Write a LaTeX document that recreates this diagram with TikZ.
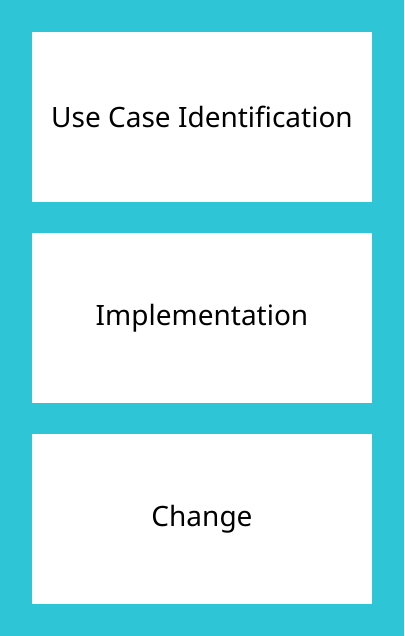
\documentclass[tikz,border=0pt]{standalone}
\usepackage{fontspec}
\setmainfont{Noto Sans}
\definecolor{bgcyan}{HTML}{2EC6D6}
\begin{document}
\begin{tikzpicture}[x=1pt,y=1pt]%
	\tikzset{stage/.style={fill=white, draw=none, minimum width=340pt, minimum height=170pt, inner sep=0pt, font=\fontsize{28}{34}\selectfont}}
	\fill[bgcyan] (0,0) rectangle (404,-636);
	\useasboundingbox (0,0) rectangle (404,-636);
	\node[stage] (usecase) at (202,-117) {Use Case Identification};
	\node[stage] (impl) at (202,-318) {Implementation};
	\node[stage] (change) at (202,-519) {Change};
\end{tikzpicture}
\end{document}
